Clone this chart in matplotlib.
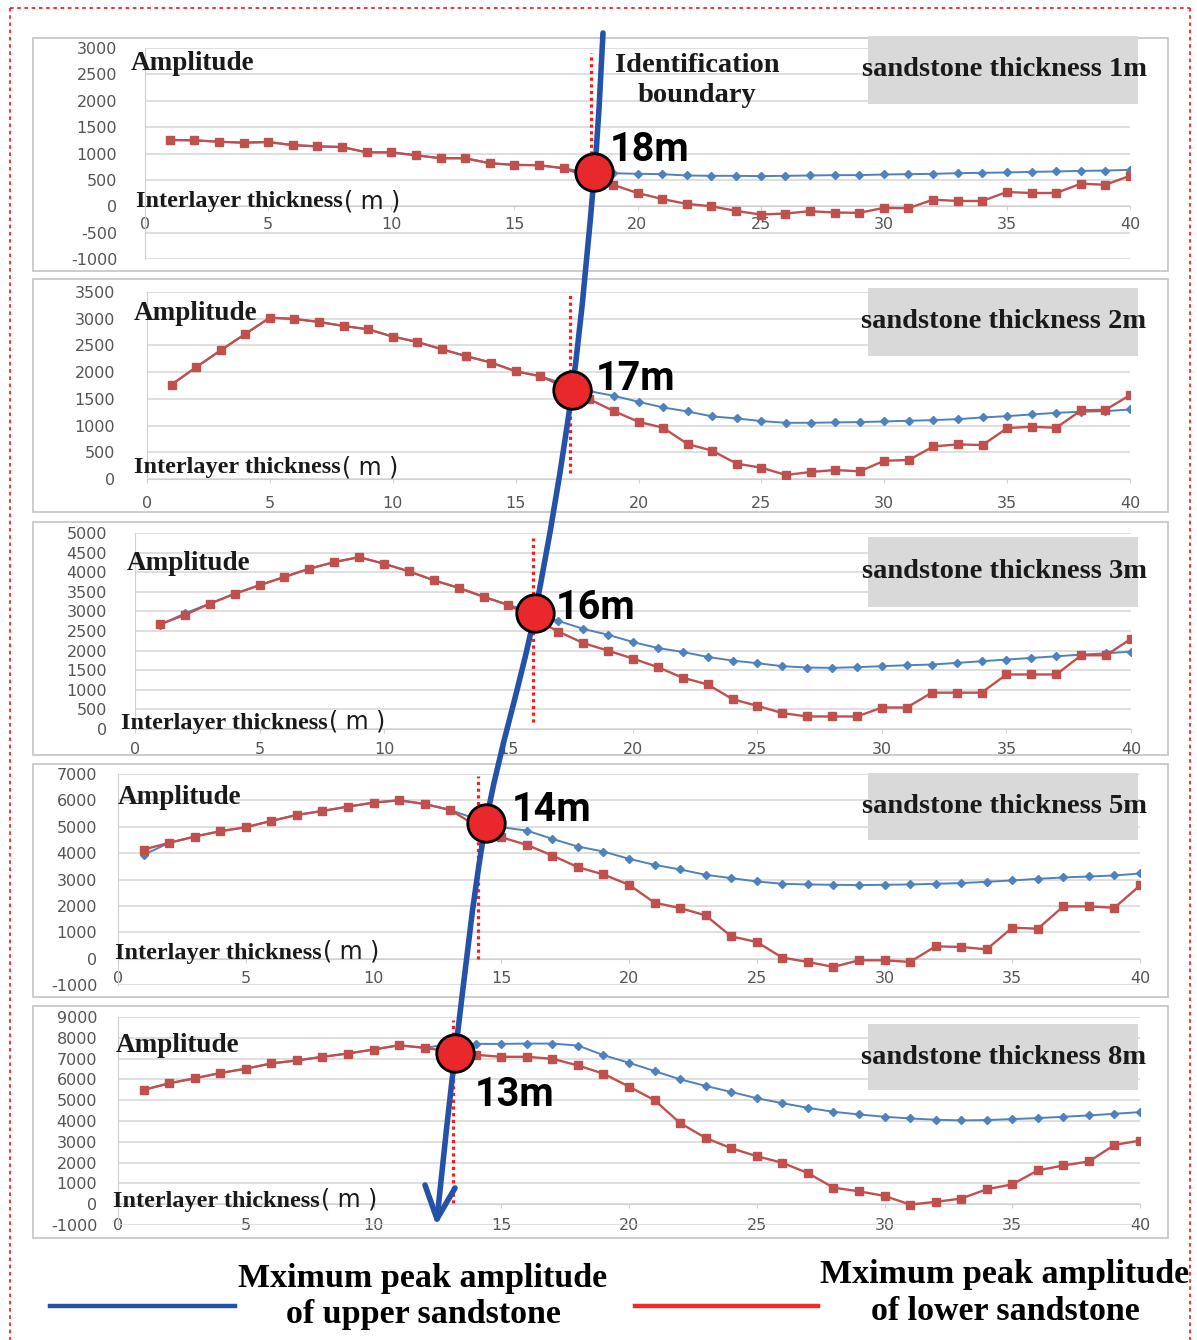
import numpy as np
import matplotlib
matplotlib.use("Agg")
import matplotlib.pyplot as plt
from matplotlib.path import Path
from matplotlib.patches import PathPatch, Rectangle

plt.rcParams["axes.unicode_minus"] = False

# ---- data ----
x = list(range(1, 41))

red_1m = [1255, 1250, 1223, 1205, 1217, 1160, 1135, 1123, 1022, 1022,
          966, 910, 910, 815, 784, 778, 720, 560, 408, 251,
          138, 44, 0, -88, -157, -138, -94, -119, -125, -31,
          -38, 125, 100, 100, 270, 251, 251, 427, 408, 577]
blue_1m = [1255, 1250, 1223, 1205, 1217, 1160, 1135, 1123, 1022, 1022,
           966, 910, 910, 815, 784, 778, 720, 640, 627, 615,
           608, 583, 577, 577, 571, 577, 583, 590, 590, 602,
           608, 615, 627, 634, 640, 652, 659, 671, 677, 690]

red_2m = [1768, 2092, 2410, 2715, 3020, 2995, 2939, 2864, 2802, 2665,
          2565, 2428, 2298, 2179, 2017, 1924, 1720, 1494, 1270, 1071,
          959, 654, 529, 286, 212, 75, 131, 168, 143, 342,
          355, 610, 648, 635, 953, 978, 959, 1283, 1295, 1569]
blue_2m = [1768, 2092, 2410, 2715, 3020, 2995, 2939, 2864, 2802, 2665,
           2565, 2428, 2298, 2179, 2017, 1924, 1780, 1644, 1557, 1445,
           1339, 1264, 1171, 1133, 1084, 1052, 1052, 1059, 1065, 1077,
           1090, 1102, 1121, 1152, 1177, 1208, 1239, 1258, 1270, 1301]

red_3m = [2673, 2909, 3196, 3448, 3668, 3879, 4089, 4258, 4384, 4216,
          4022, 3794, 3600, 3373, 3162, 2820, 2487, 2192, 1998, 1796,
          1577, 1307, 1138, 759, 590, 405, 320, 320, 320, 548,
          548, 927, 927, 927, 1391, 1391, 1391, 1880, 1880, 2302]
blue_3m = [2650, 2950, 3196, 3448, 3668, 3879, 4089, 4258, 4384, 4216,
           4022, 3794, 3600, 3373, 3162, 2990, 2757, 2555, 2403, 2218,
           2066, 1965, 1838, 1745, 1678, 1602, 1568, 1560, 1577, 1602,
           1627, 1644, 1686, 1729, 1771, 1813, 1855, 1897, 1931, 1973]

red_5m = [4136, 4388, 4628, 4830, 4981, 5221, 5448, 5599, 5763, 5914,
          6003, 5864, 5637, 5050, 4603, 4313, 3909, 3468, 3190, 2800,
          2119, 1917, 1639, 845, 631, 38, -126, -315, -63, -63,
          -126, 467, 441, 353, 1173, 1135, 1980, 1980, 1929, 2774]
blue_5m = [3934, 4388, 4628, 4830, 4981, 5221, 5448, 5599, 5763, 5914,
           6003, 5864, 5637, 5300, 4981, 4855, 4540, 4250, 4060, 3783,
           3556, 3380, 3178, 3052, 2926, 2837, 2812, 2800, 2787, 2800,
           2812, 2837, 2863, 2913, 2963, 3026, 3077, 3115, 3153, 3228]

red_8m = [5494, 5812, 6051, 6306, 6513, 6768, 6911, 7086, 7245, 7436,
          7643, 7516, 7350, 7182, 7086, 7086, 6990, 6672, 6274, 5653,
          5000, 3901, 3185, 2691, 2309, 1990, 1497, 796, 621, 398,
          -16, 111, 271, 717, 955, 1624, 1863, 2054, 2850, 3057]
blue_8m = [5494, 5812, 6051, 6306, 6513, 6768, 6911, 7086, 7245, 7436,
           7643, 7516, 7700, 7707, 7707, 7723, 7723, 7627, 7166, 6799,
           6401, 6003, 5685, 5398, 5096, 4857, 4634, 4443, 4315, 4204,
           4124, 4061, 4029, 4045, 4092, 4140, 4204, 4268, 4347, 4427]

thickness = ["1m", "2m", "3m", "5m", "8m"]
boundary_labels = ["18m", "17m", "16m", "14m", "13m"]
cross_x = [18.25, 17.3, 16.06, 14.4, 13.2]
cross_y = [640, 1666, 2959, 5150, 7260]
dotted_x = [18.1, 17.2, 16.0, 14.1, 13.1]
dotted_y = [(100, 2900), (120, 3480), (180, 4870), (0, 6930), (50, 8850)]
yranges = [(-1000, 3000, 500), (0, 3500, 500), (0, 5000, 500),
           (-1000, 7000, 1000), (-1000, 9000, 1000)]
reds = [red_1m, red_2m, red_3m, red_5m, red_8m]
blues = [blue_1m, blue_2m, blue_3m, blue_5m, blue_8m]

# ---- layout in pixels ----
W, H = 1197, 1340
plot_box = [(145, 1130, 48, 259), (147, 1130, 292, 479), (135, 1131, 533, 729),
            (118, 1140, 774, 985), (118, 1140, 1017, 1225)]
ypads = [20, 23, 20, 15, 15]
xpads = [5, 9, 6, 6, 7]
frames = [(33, 38, 1168, 271), (33, 279, 1168, 512), (33, 522, 1168, 755),
          (33, 764, 1168, 997), (33, 1006, 1168, 1238)]
gray_boxes = [(36, 104), (288, 356), (537, 607), (773, 840), (1024, 1090)]
amp_pos = [(131, 64), (134, 314), (127, 563), (118, 798), (116, 1045)]
inter_pos = [(136, 202), (134, 468), (121, 723), (115, 953), (113, 1201)]
lab_pos = [(610, 150), (596, 379), (556, 608), (512, 810), (475, 1095)]

serif = "Liberation Serif"
dark = "#1a1a1a"
fig = plt.figure(figsize=(W / 100, H / 100), dpi=100)

axes = []
for i in range(5):
    x0, x1, yt, yb = plot_box[i]
    ax = fig.add_axes([x0 / W, 1 - yb / H, (x1 - x0) / W, (yb - yt) / H])
    lo, hi, step = yranges[i]
    ax.set_xlim(0, 40)
    ax.set_ylim(lo, hi)
    ax.set_xticks(range(0, 41, 5))
    ax.set_yticks(np.arange(lo, hi + 1, step))
    ax.yaxis.grid(True, color="#d9d9d9", lw=1.2)
    ax.set_axisbelow(True)
    for s in ["top", "right"]:
        ax.spines[s].set_visible(False)
    ax.spines["left"].set_color("#d0d0d0")
    ax.spines["bottom"].set_color("#d0d0d0")
    ax.spines["bottom"].set_position(("data", 0))
    ax.patch.set_alpha(0)
    ax.tick_params(axis="y", length=0, pad=ypads[i], labelsize=11.5, labelcolor="#555555")
    ax.tick_params(axis="x", length=3, color="#d0d0d0", pad=xpads[i], labelsize=11.5,
                   labelcolor="#555555")
    ax.plot(x, blues[i], color="#4f81bd", lw=1.4, marker="D", ms=4, zorder=3)
    ax.plot(x, reds[i], color="#c0504d", lw=1.7, marker="s", ms=5.5, zorder=4)
    ax.plot([dotted_x[i]] * 2, dotted_y[i], color="#ff1a1a", lw=2.3,
            ls=(0, (1, 1.1)), zorder=5)
    axes.append(ax)

# overlay in image pixel coordinates
ov = fig.add_axes([0, 0, 1, 1])
ov.set_xlim(0, W)
ov.set_ylim(H, 0)
ov.axis("off")

# outer red dotted frame
red_dot = dict(color="#ff2020", lw=1.3, ls=(0, (2, 2)))
ov.plot([10, 10], [8, H], **red_dot)
ov.plot([1190, 1190], [8, H], **red_dot)
ov.plot([10, 1190], [8, 8], **red_dot)

for (fx0, fy0, fx1, fy1) in frames:
    ov.add_patch(Rectangle((fx0, fy0), fx1 - fx0, fy1 - fy0, fill=False,
                           ec="#c4c4c4", lw=1.2))

renderer = fig.canvas.get_renderer()
inv = ov.transData.inverted()

for i in range(5):
    gy0, gy1 = gray_boxes[i]
    ov.add_patch(Rectangle((868, gy0), 270, gy1 - gy0, color="#d9d9d9", lw=0))
    ov.text(1004, (gy0 + gy1) / 2, "sandstone thickness " + thickness[i],
            family=serif, weight="bold", fontsize=20.5, ha="center", va="center",
            color=dark)
    ov.text(amp_pos[i][0], amp_pos[i][1], "Amplitude", family=serif,
            weight="bold", fontsize=19.5, ha="left", va="center", color=dark)
    t = ov.text(inter_pos[i][0], inter_pos[i][1], "Interlayer thickness",
                family=serif, weight="bold", fontsize=17.5, ha="left", va="center",
                color=dark)
    bb = t.get_window_extent(renderer)
    xend = inv.transform((bb.x1, bb.y0))[0]
    ov.text(xend + 1, inter_pos[i][1] - 1, "( m )", family="DejaVu Sans",
            fontsize=17, ha="left", va="center", color=dark)

ov.text(697, 66, "Identification", family=serif, weight="bold", fontsize=20.5,
        ha="center", va="center", color=dark)
ov.text(697, 96, "boundary", family=serif, weight="bold", fontsize=20.5,
        ha="center", va="center", color=dark)

# crossing points in overlay coords
pts = []
for i in range(5):
    d = axes[i].transData.transform((cross_x[i], cross_y[i]))
    pts.append(inv.transform(d))

# smooth blue boundary curve (Catmull-Rom -> Bezier)
anchors = [np.array([603.0, 33.0])] + [np.array(p) for p in pts] + [np.array([437.0, 1219.0])]
verts = [anchors[0]]
codes = [Path.MOVETO]
n = len(anchors)
for k in range(n - 1):
    p0 = anchors[max(k - 1, 0)]
    p1 = anchors[k]
    p2 = anchors[k + 1]
    p3 = anchors[min(k + 2, n - 1)]
    c1 = p1 + (p2 - p0) / 6
    c2 = p2 - (p3 - p1) / 6
    verts += [c1, c2, p2]
    codes += [Path.CURVE4] * 3
blue_c = "#2452a8"
ov.add_patch(PathPatch(Path(verts, codes), fill=False, ec=blue_c, lw=4, capstyle="round", zorder=6))
ov.plot([425, 437, 455], [1185, 1219, 1188], color=blue_c, lw=4,
        solid_capstyle="round", solid_joinstyle="round", zorder=6)

for i in range(5):
    ov.plot(pts[i][0], pts[i][1], "o", ms=27, mfc="#e8282a", mec="black", mew=2, zorder=7)
    ov.text(lab_pos[i][0], lab_pos[i][1], boundary_labels[i], family="Roboto",
            weight="bold", fontsize=28.5, ha="left", va="center", color="black", zorder=8)

# legend
ov.plot([50, 235], [1306, 1306], color=blue_c, lw=3.2)
ov.plot([635, 818], [1306, 1306], color="#f02a2a", lw=3.2)
ov.text(423, 1278, "Mximum peak amplitude", family=serif, weight="bold",
        fontsize=24.5, ha="center", va="center")
ov.text(423, 1315, "of upper sandstone", family=serif, weight="bold",
        fontsize=24.5, ha="center", va="center")
ov.text(1005, 1274, "Mximum peak amplitude", family=serif, weight="bold",
        fontsize=24.5, ha="center", va="center")
ov.text(1005, 1312, "of lower sandstone", family=serif, weight="bold",
        fontsize=24.5, ha="center", va="center")

fig.savefig("out.png", dpi=100)
